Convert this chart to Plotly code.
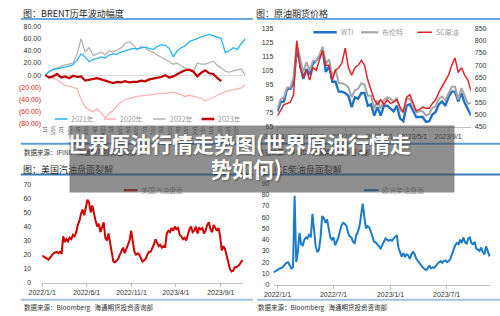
import plotly.graph_objects as go
import pandas as pd

# ---------------- DATA ----------------
# Panel 1: BRENT yearly volatility (day index, % change)
p1_days = list(range(0, 255, 5))
y2021 = [0, 6, 9, 10, 11, 13, 15, 17, 25, 35, 30, 22, 26, 27, 30, 28, 33, 35, 34, 38,
         40, 42, 44, 43, 45, 46, 44, 42, 47, 50, 49, 44, 30, 40, 45, 48, 55, 57, 60, 63,
         65, 67, 65, 63, 60, 37, 40, 45, 42, 52, 60]
y2020 = [0, -2, -5, -8, -13, -17, -18, -20, -22, -40, -52, -57, -60, -55, -62, -70, -63, -58, -50, -44,
         -40, -38, -36, -35, -34, -33, -32, -31, -31, -30, -30, -29, -28, -30, -33, -35, -33, -34, -36, -38,
         -42, -40, -36, -33, -30, -27, -25, -24, -22, -21, -15]
y2022 = [0, 5, 10, 12, 15, 17, 18, 20, 35, 60, 38, 45, 32, 35, 38, 33, 40, 38, 42, 45,
         52, 55, 50, 42, 47, 45, 40, 38, 33, 30, 26, 22, 18, 20, 15, 12, 8, 5, 20, 18,
         18, 20, 23, 16, 12, 6, 5, 7, 8, 10, 0]
y2023 = [0, -4, -2, 2, -4, -2, -5, -1, -3, -2, -9, -8, -6, -5, -7, -9, -12, -13, -11, -12,
         -10, -12, -11, -11, -9, -10, -7, -6, -4, -3, 0, -4, -2, 2, 5, 8, 9, 6, -2, 4,
         8, 3, 2, -5, -10]
p1_tick_days = [i * 10.4 for i in range(24)]
p1_tick_text = ["1/1", "1/15", "2/1", "2/15", "3/1", "3/15", "4/1", "4/15", "5/1", "5/15", "6/1", "6/15",
                "7/1", "7/15", "8/1", "8/15", "9/1", "9/15", "10/1", "10/15", "11/1", "11/15", "12/1", "12/15"]
p1_yticks = [80, 60, 40, 20, 0, -20, -40, -60, -80]

# Panel 2: crude futures prices
p2_start, p2_end = "2022-01-01", "2023-11-22"
wti = [76, 82.6, 83, 92, 92, 96, 120, 111, 99, 106, 102, 110, 112, 115, 120, 104, 108, 97, 97, 90,
       90, 89, 87, 79, 86, 85, 89, 89, 80, 81, 73, 79, 73, 80, 80, 78, 76, 80, 71, 69,
       80, 81, 76, 72, 72, 72, 68.5, 69, 73.8, 75.5, 81, 83, 80, 86, 90, 90, 83, 89, 82, 77, 73]
brent = [78, 84.7, 86, 93, 93, 100, 124, 115, 104, 111, 105, 112, 112, 116, 122, 110, 113, 101, 106, 96,
         96, 95, 93, 86, 91, 92, 96, 95, 87, 87, 78, 84, 78, 84, 86, 85, 83, 85.5, 77, 75,
         85, 84.7, 79.5, 75, 76, 76, 73, 74, 78.5, 79.5, 85, 86.5, 84, 88.5, 93.5, 93.5, 84.5, 92.5, 87, 81.5, 82]
sc = [494, 520, 540, 545, 550, 580, 800, 690, 650, 680, 640, 690, 680, 720, 760, 700, 700, 640, 680, 690,
      710, 770, 690, 660, 690, 700, 720, 700, 640, 600, 560, 540, 560, 540, 560, 545, 550, 560, 530, 510,
      570, 580, 545, 515, 520, 530, 525, 525, 545, 560, 590, 615, 640, 660, 700, 730, 670, 690, 660, 640, 595]
p2_ticks = ["2022-01-01", "2022-05-01", "2022-09-01", "2023-01-01", "2023-05-01", "2023-09-01"]

# Panel 3: US gasoline crack
p3_start, p3_end = "2022-01-01", "2023-11-15"
gasoline = [19.3, 18.5, 18, 17.5, 16.5, 18, 19.5, 21, 21.5, 22, 21, 22, 20.5, 33, 29, 31, 29.5, 32, 31, 34,
            33, 36, 41, 44, 49, 52, 48, 55, 59, 57, 50, 55, 48, 44, 40, 42, 36, 40, 43, 32,
            30, 35, 29, 22, 15, 14.5, 16, 17, 20, 22, 25, 21, 24, 27, 30, 37, 28, 22, 20, 21,
            20, 17, 15, 16, 17, 20, 22, 22, 24, 27, 31, 29, 26, 27, 25, 26, 25, 35, 37, 36,
            39, 37, 40, 38, 39, 34, 33, 31, 32, 30, 35, 38, 40, 36, 37, 40, 35, 39, 38, 39,
            35, 37, 41, 43, 38, 36, 41, 39, 37, 39, 33, 23, 26, 24, 19, 15, 10, 8, 8.5, 11,
            11, 12, 13, 15, 16]
p3_ticks = ["2022-01-01", "2022-06-01", "2022-11-01", "2023-04-01", "2023-09-01"]

# Panel 4: European diesel crack
p4_start, p4_end = "2021-12-19", "2023-11-21"
diesel = [11, 12, 13, 14, 14.4, 15, 16, 18, 19.5, 20, 17, 14.4, 15.5, 79, 20, 29, 46, 36, 35, 40,
          42, 41, 45, 42, 63, 48, 34, 29, 31, 42, 61, 59, 55, 58, 50, 42, 40, 42, 35, 39,
          42, 48, 53, 55, 54, 52, 46, 43, 42, 38, 37, 44, 47, 52, 62, 72, 60, 50, 52, 51,
          47, 42, 38, 37.5, 36, 34, 32, 35, 39, 41, 40, 39, 40, 39, 41, 43, 44, 33, 28, 25,
          28, 25, 27, 26, 23, 27, 29, 27, 23, 21, 18.5, 17, 15.5, 14, 13, 14.5, 17, 14.5, 15.5, 15,
          17, 19, 20, 21, 19.5, 21, 21.5, 20, 21, 23, 27, 30, 35, 37, 36, 40, 37, 42, 38, 36,
          41, 42, 37, 36, 38, 32, 31, 30, 33, 29, 27, 34, 30, 26, 27]
p4_ticks = ["2022-01-01", "2022-07-01", "2023-01-01", "2023-07-01"]

# ---------------- FIGURE ----------------
W, H = 500, 316
def px(x): return x / W
def py(y): return 1 - y / H

TICKFONT = dict(family="Liberation Sans, Arial", size=7, color="#333333")
CJK = "Noto Sans CJK SC"

fig = go.Figure()

# Panel 1
fig.add_trace(go.Scatter(x=p1_days, y=y2020, mode="lines", line=dict(color="#f7b3b3", width=1.3), xaxis="x", yaxis="y"))
fig.add_trace(go.Scatter(x=p1_days, y=y2022, mode="lines", line=dict(color="#b3b3b3", width=1.3), xaxis="x", yaxis="y"))
fig.add_trace(go.Scatter(x=p1_days, y=y2021, mode="lines", line=dict(color="#22b5ec", width=1.3), xaxis="x", yaxis="y"))
fig.add_trace(go.Scatter(x=p1_days[:len(y2023)], y=y2023, mode="lines", line=dict(color="#c00000", width=2.2), xaxis="x", yaxis="y"))

# Panel 2
d2 = pd.date_range(p2_start, p2_end, periods=len(wti))
fig.add_trace(go.Scatter(x=d2, y=wti, mode="lines", line=dict(color="#1f72c4", width=2.4), xaxis="x2", yaxis="y2"))
fig.add_trace(go.Scatter(x=d2, y=brent, mode="lines", line=dict(color="#a6a6a6", width=2.0), xaxis="x2", yaxis="y2"))
fig.add_trace(go.Scatter(x=d2, y=sc, mode="lines", line=dict(color="#e3232c", width=1.5), xaxis="x2", yaxis="y3"))

# Panel 3
d3 = pd.date_range(p3_start, p3_end, periods=len(gasoline))
fig.add_trace(go.Scatter(x=d3, y=gasoline, mode="lines", line=dict(color="#d00000", width=2), xaxis="x3", yaxis="y4"))

# Panel 4
d4 = pd.date_range(p4_start, p4_end, periods=len(diesel))
fig.add_trace(go.Scatter(x=d4, y=diesel, mode="lines", line=dict(color="#1a7bc9", width=2), xaxis="x4", yaxis="y5"))

p1_ytext = [(f"{v:.2f}" if v >= 0 else f"<span style='color:#e02020'>({abs(v):.2f})</span>") for v in p1_yticks]

fig.update_layout(
    width=W, height=H, margin=dict(l=0, r=0, t=0, b=0),
    paper_bgcolor="white", plot_bgcolor="white", showlegend=False,
    xaxis=dict(domain=[px(32), px(238)], range=[0, 250], tickvals=p1_tick_days, ticktext=p1_tick_text,
               tickangle=-90, tickfont=dict(family="Liberation Sans", size=5, color="#555"),
               showgrid=False, zeroline=False, showline=False, ticks="", anchor="y"),
    yaxis=dict(domain=[py(123), py(23)], range=[-80, 80], tickvals=p1_yticks, ticktext=p1_ytext,
               tickfont=TICKFONT, showgrid=False, zeroline=True, zerolinecolor="#d9d9d9", zerolinewidth=1,
               showline=False, ticks="", anchor="x", ticklabelstandoff=3),
    xaxis2=dict(domain=[px(271), px(470)], range=["2022-01-01", "2023-11-21"], tickvals=p2_ticks,
                tickformat="%Y/%-m/%-d", tickfont=TICKFONT, showgrid=False, zeroline=False,
                showline=True, linecolor="#bfbfbf", linewidth=1, ticks="outside", ticklen=3,
                tickcolor="#bfbfbf", anchor="y2"),
    yaxis2=dict(domain=[py(126), py(25)], range=[65, 135], tickvals=list(range(65, 136, 10)),
                tickfont=TICKFONT, showgrid=False, zeroline=False, showline=False, ticks="", anchor="x2",
                ticklabelstandoff=3),
    yaxis3=dict(overlaying="y2", side="right", range=[450, 850], tickvals=list(range(450, 851, 50)),
                tickfont=TICKFONT, showgrid=False, zeroline=False, showline=False, ticks="", anchor="x2",
                ticklabelstandoff=3),
    xaxis3=dict(domain=[px(29), px(236)], range=["2022-01-01", "2023-11-17"], tickvals=p3_ticks,
                tickformat="%Y/%-m/%-d", tickfont=TICKFONT, showgrid=False, zeroline=False,
                showline=True, linecolor="#bfbfbf", linewidth=1, ticks="outside", ticklen=3,
                tickcolor="#bfbfbf", anchor="y4"),
    yaxis4=dict(domain=[py(286), py(185)], range=[0, 70], tickvals=list(range(0, 71, 10)),
                tickfont=TICKFONT, showgrid=False, zeroline=False, showline=False, ticks="", anchor="x3",
                ticklabelstandoff=10),
    xaxis4=dict(domain=[px(267), px(490)], range=["2021-12-19", "2023-11-19"], tickvals=p4_ticks,
                tickformat="%Y/%-m/%-d", tickfont=TICKFONT, showgrid=False, zeroline=False,
                showline=True, linecolor="#bfbfbf", linewidth=1, ticks="outside", ticklen=3,
                tickcolor="#bfbfbf", anchor="y5"),
    yaxis5=dict(domain=[py(288), py(184)], range=[0, 90], tickvals=list(range(0, 91, 10)),
                tickfont=TICKFONT, showgrid=False, zeroline=False, showline=False, ticks="", anchor="x4",
                ticklabelstandoff=3),
)

shapes = []
annotations = []

def hline(x0, x1, y, color, width):
    shapes.append(dict(type="line", xref="paper", yref="paper", x0=px(x0), x1=px(x1), y0=py(y), y1=py(y),
                       line=dict(color=color, width=width)))

def text(x, y, s, size=7, color="#333333", xanchor="left", family=CJK):
    annotations.append(dict(x=px(x), y=py(y), xref="paper", yref="paper", text=s, showarrow=False,
                            xanchor=xanchor, yanchor="middle", font=dict(family=family, size=size, color=color)))

# panel frames: title rules and source rules
hline(7, 246, 15.5, "#6fa8dc", 2)
hline(250, 500, 15.5, "#6fa8dc", 2)
hline(7, 246, 175, "#3a7ab8", 2)
hline(250, 500, 175, "#3a7ab8", 2)
hline(7, 246, 143.5, "#5b9bd5", 2)
hline(250, 500, 143.5, "#5b9bd5", 2)
hline(7, 246, 303.5, "#9dc3e6", 2)
hline(250, 500, 303.5, "#9dc3e6", 2)

# titles
text(7, 10, "图：BRENT历年波动幅度", 9, "#222222")
text(247, 10, "图：原油期货价格", 9, "#222222")
text(7, 170, "图：美国汽油盘面裂解", 9, "#222222")
text(247, 170, "图：ICE柴油盘面裂解", 9, "#222222")

# sources
text(8, 152, "数据来源：IFIND\u00a0\u00a0\u00a0海通期货投资咨询部", 6.5)
text(249, 152, "数据来源：IFIND\u00a0\u00a0\u00a0海通期货投资咨询部", 6.5)
text(8, 311, "数据来源：Bloomberg\u00a0\u00a0\u00a0海通期货投资咨询部", 6.5)
text(249, 311, "数据来源：Bloomberg\u00a0\u00a0\u00a0海通期货投资咨询部", 6.5)

# custom legends
LEG = "#9a9a9a"
for (x0, x1, col, w, lab) in [(42, 55, "#22b5ec", 1.5, "2021年"), (92, 105, "#f7b3b3", 1.5, "2020年"),
                              (143, 156, "#b3b3b3", 1.5, "2022年"), (193, 206, "#c00000", 2.5, "2023年")]:
    hline(x0, x1, 118, col, w)
    text(x1 + 2, 118, lab, 7, LEG)
for (x0, x1, col, w, lab) in [(308, 332, "#1f72c4", 2.5, "WTI"), (357, 375, "#a6a6a6", 2.2, "布伦特"),
                              (415, 430, "#e3232c", 1.5, "SC原油")]:
    hline(x0, x1, 29, col, w)
    text(x1 + 2, 29, lab, 7, LEG)
hline(113, 127, 191, "#d00000", 2.2)
text(129, 191, "美国汽油盘面", 7, LEG)
hline(360, 375, 191, "#1a7bc9", 2.2)
text(377, 191, "欧洲柴油盘面", 7, LEG)

# overlay caption box (drawn after other annotations so it covers them)
annotations.append(dict(
    x=px(57), y=py(124), xref="paper", yref="paper", xanchor="left", yanchor="top",
    width=384, height=66, showarrow=False, bgcolor="rgba(75,75,75,0.62)", borderpad=0,
    text=" ", font=dict(size=2),
))
CAP = dict(family=CJK, size=21, color="white", weight="bold", shadow="1px 1px 2px rgba(0,0,0,0.35)")
annotations.append(dict(x=px(231), y=py(143), xref="paper", yref="paper", xanchor="center", yanchor="middle",
                        showarrow=False, text="世界原油行情走势图(世界原油行情走", font=CAP))
annotations.append(dict(x=px(239), y=py(168), xref="paper", yref="paper", xanchor="center", yanchor="middle",
                        showarrow=False, text="势如何)", font=CAP))

fig.update_layout(shapes=shapes, annotations=annotations)
fig.write_html("out.html")
